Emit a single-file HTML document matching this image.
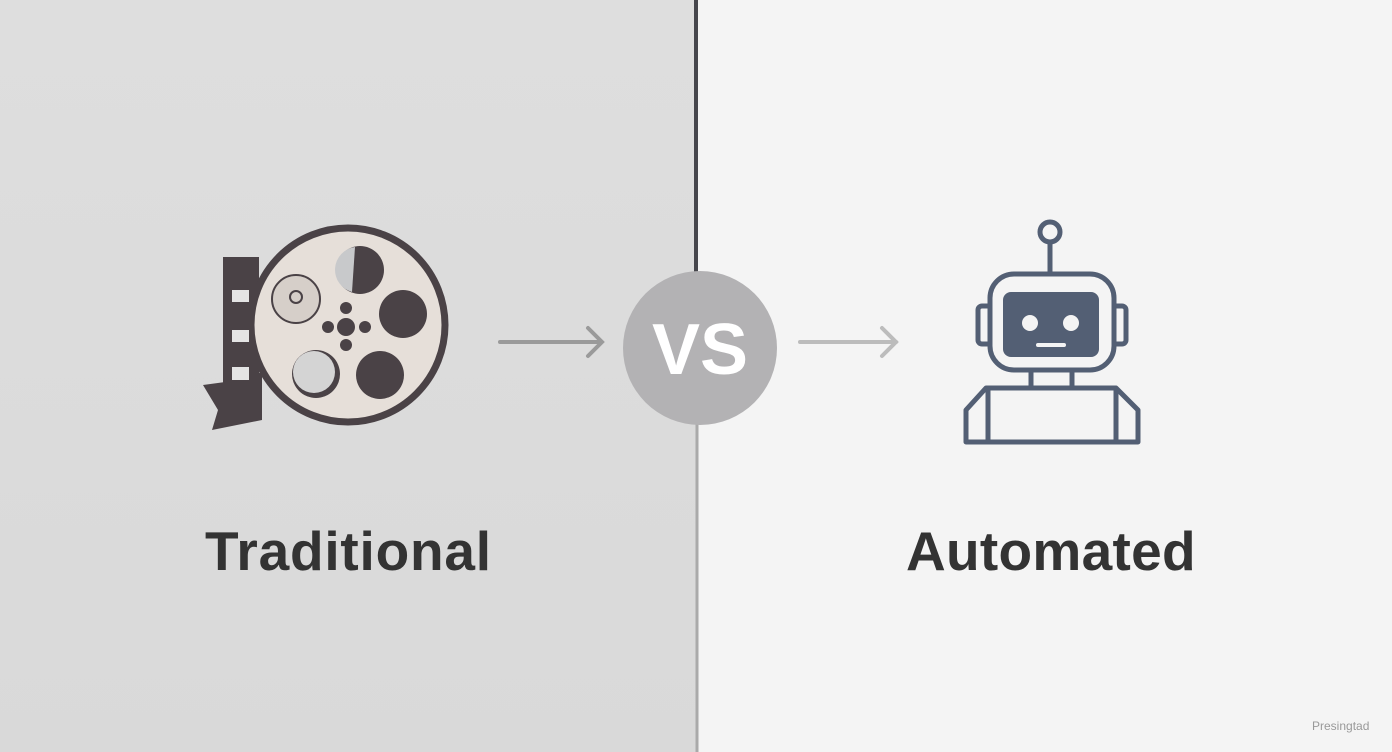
<!DOCTYPE html>
<html><head><meta charset="utf-8"><style>
html,body{margin:0;padding:0;width:1392px;height:752px;overflow:hidden}
body{position:relative;font-family:"Liberation Sans",sans-serif}
.l{position:absolute;left:0;top:0;width:696px;height:752px;background:linear-gradient(180deg,#dedede,#d9d9d9)}
.r{position:absolute;left:696px;top:0;width:696px;height:752px;background:#f4f4f4}
.t{position:absolute;font-size:55px;font-weight:bold;color:#333;white-space:nowrap}
</style></head><body>
<div class="l"></div><div class="r"></div>
<svg width="1392" height="752" style="position:absolute;left:0;top:0">
<line x1="696" y1="0" x2="696" y2="272" stroke="#46464c" stroke-width="4"/>
<line x1="697" y1="424" x2="697" y2="752" stroke="#aaaaaa" stroke-width="3"/>
<!-- film strip -->
<rect x="223" y="257" width="36" height="150" fill="#4a4246"/>
<path d="M203 385 L240 380 L262 372 L262 420 L212 430 L218 410 Z" fill="#4a4246"/>
<!-- reel -->
<circle cx="348" cy="325" r="97" fill="#e6dfd9" stroke="#4a4246" stroke-width="7"/>
<rect x="232" y="290" width="17" height="12" fill="#e4e4e4"/>
<rect x="232" y="330" width="17" height="12" fill="#e4e4e4"/>
<rect x="232" y="367" width="17" height="13" fill="#e4e4e4"/>
<circle cx="360" cy="270" r="24" fill="#4a4246"/>
<path d="M355 247 A23 23 0 0 0 352 292 Z" fill="#c8c9cb"/>
<circle cx="403" cy="314" r="24" fill="#4a4246"/>
<circle cx="380" cy="375" r="24" fill="#4a4246"/>
<circle cx="316" cy="374" r="24" fill="#4a4246"/>
<circle cx="314" cy="372" r="21" fill="#d4d4d4"/>
<circle cx="296" cy="299" r="24" fill="#d6cfc9" stroke="#4a4246" stroke-width="2"/>
<circle cx="296" cy="297" r="6" fill="none" stroke="#4a4246" stroke-width="2"/>
<circle cx="346" cy="327" r="9" fill="#4a4246"/>
<circle cx="346" cy="308" r="6" fill="#4a4246"/>
<circle cx="346" cy="345" r="6" fill="#4a4246"/>
<circle cx="328" cy="327" r="6" fill="#4a4246"/>
<circle cx="365" cy="327" r="6" fill="#4a4246"/>
<!-- arrows -->
<g stroke="#9a9a9a" stroke-width="4" fill="none" stroke-linecap="round">
<line x1="500" y1="342" x2="601" y2="342"/><polyline points="588,328 602,342 588,356"/></g>
<g stroke="#bcbcbc" stroke-width="4" fill="none" stroke-linecap="round">
<line x1="800" y1="342" x2="896" y2="342"/><polyline points="882,328 896,342 882,356"/></g>
<!-- VS -->
<circle cx="700" cy="348" r="77" fill="#b3b2b4"/>
<text x="700" y="374" text-anchor="middle" font-family="Liberation Sans" font-weight="bold" font-size="72" fill="#fff">VS</text>
<!-- robot -->
<g stroke="#535f74" stroke-width="5" fill="none">
<circle cx="1050" cy="232" r="10"/>
<line x1="1050" y1="242" x2="1050" y2="273"/>
<rect x="990" y="274" width="124" height="96" rx="24"/>
<path d="M990 306 h-8 a4 4 0 0 0 -4 4 v30 a4 4 0 0 0 4 4 h8"/>
<path d="M1114 306 h8 a4 4 0 0 1 4 4 v30 a4 4 0 0 1 -4 4 h-8"/>
<line x1="1031" y1="370" x2="1031" y2="386"/><line x1="1072" y1="370" x2="1072" y2="386"/>
<path d="M966 442 V410 L986 388 H1116 L1138 410 V442 Z" stroke-linejoin="round"/>
<line x1="988" y1="388" x2="988" y2="442"/><line x1="1116" y1="388" x2="1116" y2="442"/>
</g>
<rect x="1003" y="292" width="96" height="65" rx="8" fill="#535f74"/>
<circle cx="1030" cy="323" r="8" fill="#f4f4f4"/><circle cx="1071" cy="323" r="8" fill="#f4f4f4"/>
<line x1="1038" y1="345" x2="1064" y2="345" stroke="#f4f4f4" stroke-width="4" stroke-linecap="round"/>
</svg>
<div class="t" style="left:205px;top:519px;letter-spacing:0.8px">Traditional</div>
<div class="t" style="left:906px;top:519px;letter-spacing:0.3px">Automated</div>
<div style="position:absolute;left:1312px;top:719px;font-size:12px;color:#999">Presingtad</div>
</body></html>
